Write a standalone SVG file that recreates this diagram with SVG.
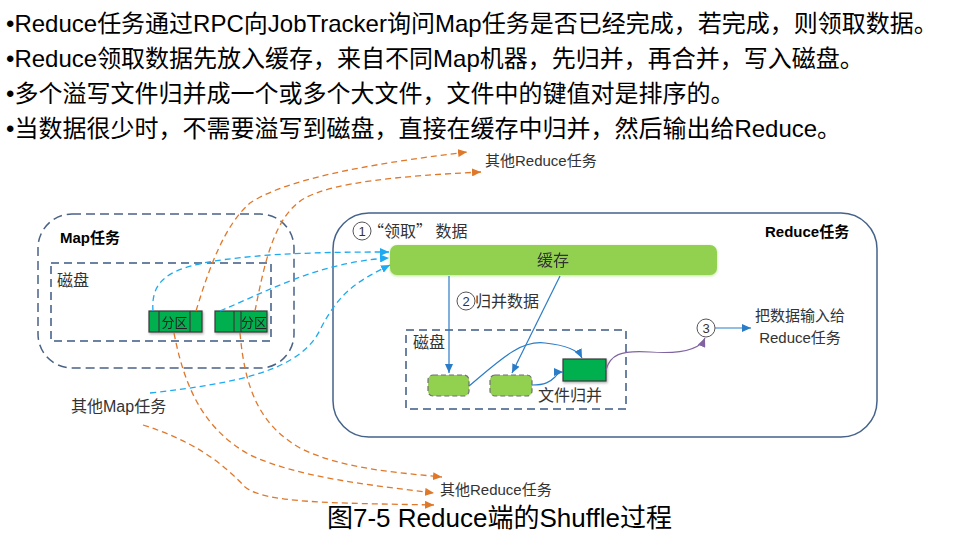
<svg xmlns="http://www.w3.org/2000/svg" width="976" height="551" viewBox="0 0 976 551">
<defs>
  <style>
    .t { font-family: "Liberation Sans", "Noto Sans CJK SC", sans-serif; }
    .cjk { font-family: "Noto Sans CJK SC", sans-serif; }
    .head { font-size: 24px; fill: #000; }
    .lbl { font-size: 15px; fill: #333; }
    .lbl16 { font-size: 16px; fill: #333; }
    .bold { font-weight: bold; fill: #000; font-size: 15px; }
    .num { font-size: 13px; fill: #333; text-anchor: middle; }
    .dashbox { fill: none; stroke: #3d5a85; stroke-width: 1.5; stroke-dasharray: 8 5; }
    .part { fill: #00b050; stroke: #3a3a3a; stroke-width: 1.2; }
    .cell { fill: #92d050; stroke: #707070; stroke-width: 1.2; stroke-dasharray: 5 3; }
    .circ { fill: #fff; stroke: #555; stroke-width: 1; }
    .bd { fill: none; stroke: #1eaaf0; stroke-width: 1.3; stroke-dasharray: 6 4; marker-end: url(#ab); }
    .od { fill: none; stroke: #e0782a; stroke-width: 1.3; stroke-dasharray: 6 4; marker-end: url(#ao); }
    .bs { fill: none; stroke: #2a7cc7; stroke-width: 1.2; marker-end: url(#as); }
    .ps { fill: none; stroke: #8064a2; stroke-width: 1.2; marker-end: url(#ap); }
  </style>
  <marker id="ab" markerUnits="userSpaceOnUse" markerWidth="10" markerHeight="8" refX="9" refY="4" orient="auto"><path d="M0,0 L9,4 L0,8 z" fill="#1eaaf0"/></marker>
  <marker id="ao" markerUnits="userSpaceOnUse" markerWidth="10" markerHeight="8" refX="9" refY="4" orient="auto"><path d="M0,0 L9,4 L0,8 z" fill="#e0782a"/></marker>
  <marker id="as" markerUnits="userSpaceOnUse" markerWidth="10" markerHeight="8" refX="9" refY="4" orient="auto"><path d="M0,0 L9,4 L0,8 z" fill="#2a7cc7"/></marker>
  <marker id="ap" markerUnits="userSpaceOnUse" markerWidth="10" markerHeight="8" refX="9" refY="4" orient="auto"><path d="M0,0 L9,4 L0,8 z" fill="#8064a2"/></marker>
  <filter id="sh" x="-20%" y="-20%" width="140%" height="160%"><feDropShadow dx="1" dy="1.5" stdDeviation="1" flood-color="#000" flood-opacity="0.3"/></filter>
  <filter id="glow" x="-5%" y="-20%" width="110%" height="140%"><feDropShadow dx="0" dy="1" stdDeviation="1.5" flood-color="#92d050" flood-opacity="0.6"/></filter>
</defs>
<rect width="976" height="551" fill="#fff"/>

<g id="header" class="t head">
  <text x="6" y="32">•Reduce任务通过RPC向JobTracker询问Map任务是否已经完成，若完成，则领取数据。</text>
  <text x="6" y="67">•Reduce领取数据先放入缓存，来自不同Map机器，先归并，再合并，写入磁盘。</text>
  <text x="6" y="102">•多个溢写文件归并成一个或多个大文件，文件中的键值对是排序的。</text>
  <text x="6" y="137">•当数据很少时，不需要溢写到磁盘，直接在缓存中归并，然后输出给Reduce。</text>
</g>

<g id="map-task">
  <rect x="38" y="214" width="256" height="154" rx="34" ry="34" fill="none" stroke="#4a6285" stroke-width="1.5" stroke-dasharray="9 5"/>
  <text class="t bold" x="60" y="243">Map任务</text>
</g>
<g id="map-disk">
  <rect class="dashbox" x="51" y="263" width="220" height="78"/>
  <text class="t lbl16" x="57" y="286">磁盘</text>
</g>
<g id="partition-1" filter="url(#sh)">
  <rect class="part" x="149" y="311" width="53" height="21"/>
  <line x1="159" y1="311" x2="159" y2="332" stroke="#3a3a3a" stroke-width="1.2"/>
  <line x1="190" y1="311" x2="190" y2="332" stroke="#3a3a3a" stroke-width="1.2"/>
  <text class="t" x="174.5" y="327" font-size="13" fill="#222" text-anchor="middle">分区</text>
</g>
<g id="partition-2" filter="url(#sh)">
  <rect class="part" x="215" y="311" width="52" height="21"/>
  <line x1="234" y1="311" x2="234" y2="332" stroke="#3a3a3a" stroke-width="1.2"/>
  <line x1="241" y1="311" x2="241" y2="332" stroke="#3a3a3a" stroke-width="1.2"/>
  <text class="t" x="254" y="327" font-size="13" fill="#222" text-anchor="middle">分区</text>
</g>

<g id="reduce-task">
  <rect x="333" y="213" width="544" height="224" rx="36" ry="36" fill="none" stroke="#44628a" stroke-width="1.5"/>
  <text class="t bold" x="765" y="237">Reduce任务</text>
</g>
<g id="step-1">
  <circle class="circ" cx="362" cy="231" r="9"/>
  <text class="t num" x="362" y="235.5">1</text>
  <text class="cjk lbl16" x="368" y="237">“领取” 数据</text>
</g>
<g id="buffer" filter="url(#glow)">
  <rect x="390" y="245" width="327" height="30" rx="7" ry="7" fill="#92d050"/>
  <text class="t lbl16" x="553" y="266" text-anchor="middle">缓存</text>
</g>
<g id="step-2">
  <circle class="circ" cx="466" cy="301" r="9"/>
  <text class="t num" x="466" y="305.5">2</text>
  <text class="t lbl16" x="475" y="307">归并数据</text>
</g>
<g id="reduce-disk">
  <rect class="dashbox" x="406" y="330" width="220" height="79"/>
  <text class="t lbl16" x="413" y="348">磁盘</text>
</g>
<g id="spill-a"><rect class="cell" x="428" y="375" width="41" height="21" rx="5" ry="5"/></g>
<g id="spill-b"><rect class="cell" x="490" y="375" width="42" height="21" rx="5" ry="5"/></g>
<g id="merged" filter="url(#sh)"><rect class="part" x="563" y="359" width="43" height="22"/></g>
<g id="merge-label"><text class="t lbl16" x="538" y="401">文件归并</text></g>
<g id="step-3">
  <circle class="circ" cx="706" cy="328" r="9"/>
  <text class="t num" x="706" y="332.5">3</text>
</g>
<g id="output-label" class="t lbl" text-anchor="middle">
  <text x="800" y="321">把数据输入给</text>
  <text x="800" y="343">Reduce任务</text>
</g>
<g id="other-map"><text class="t lbl16" x="71" y="412">其他Map任务</text></g>
<g id="other-reduce-top"><text class="t lbl" x="485" y="166">其他Reduce任务</text></g>
<g id="other-reduce-bottom"><text class="t lbl" x="440" y="495">其他Reduce任务</text></g>

<g id="caption"><text class="t" x="327" y="527" font-size="26" fill="#000">图7-5 Reduce端的Shuffle过程</text></g>

<g id="connectors">
  <path class="bd" d="M153,311 C150,272 180,262 270,255 C320,252 360,252 389,252"/>
  <path class="bd" d="M220,311 C270,290 320,262 389,258"/>
  <path class="bd" d="M150,393 C240,383 300,370 320,330 C340,290 360,280 390,265"/>
  <path class="od" d="M196,311 C210,265 225,225 250,203 C285,180 360,165 467,152"/>
  <path class="od" d="M255,311 C265,260 275,215 305,198 C335,182 400,176 481,172"/>
  <path class="od" d="M174,333 C185,390 205,430 250,455 C300,478 370,485 434,493"/>
  <path class="od" d="M240,333 C245,390 260,425 300,448 C340,468 390,472 442,477"/>
  <path class="od" d="M143,425 C190,440 220,460 245,487 C265,503 330,503 434,505"/>
  <path class="bs" d="M449,276 L449,373"/>
  <path class="bs" d="M560,276 L512,373"/>
  <path class="bs" d="M469,386 C500,360 520,340 545,343 C565,345 578,350 582,358"/>
  <path class="bs" d="M532,385 C545,385 550,382 555,377 C558,373 560,372 563,372"/>
  <path class="ps" d="M606,370 C610,355 620,350 650,352 C680,354 700,350 705,338"/>
  <path class="bs" d="M715,328 L751,328"/>
</g>
</svg>
